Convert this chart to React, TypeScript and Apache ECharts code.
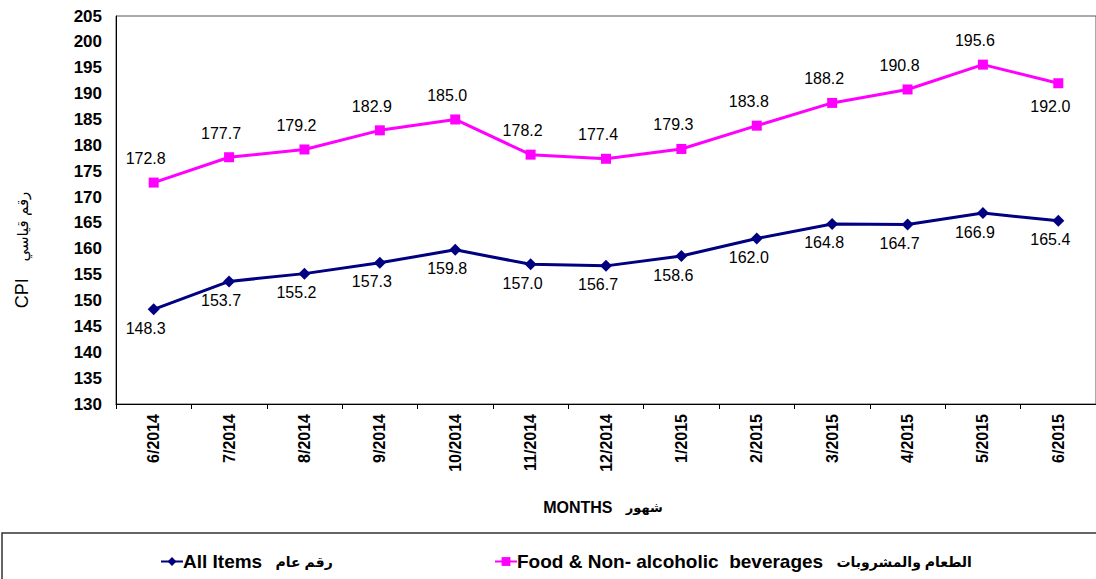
import React, { useEffect, useRef } from "react";
import * as echarts from "echarts";

const months = ["6/2014", "7/2014", "8/2014", "9/2014", "10/2014", "11/2014", "12/2014", "1/2015", "2/2015", "3/2015", "4/2015", "5/2015", "6/2015"];
const allItems = [148.3, 153.7, 155.2, 157.3, 159.8, 157.0, 156.7, 158.6, 162.0, 164.8, 164.7, 166.9, 165.4];
const food = [172.8, 177.7, 179.2, 182.9, 185.0, 178.2, 177.4, 179.3, 183.8, 188.2, 190.8, 195.6, 192.0];
const allName = "All Items";
const allNameAr = "رقم عام";
const foodName = "Food & Non- alcoholic  beverages";
const foodNameAr = "الطعام والمشروبات";
const yNameEn = "CPI";
const yNameAr = "رقم قياسي";
const xNameEn = "MONTHS";
const xNameAr = "شهور";

const FONT = "'Liberation Sans', Arial, 'DejaVu Sans', sans-serif";

export default function App() {
  const ref = useRef<HTMLDivElement>(null);
  useEffect(() => {
    if (!ref.current) return;
    const chart = echarts.init(ref.current, undefined, { renderer: "svg" });
    const foodData = food.map((v, i) =>
      i === food.length - 1
        ? { value: v, label: { position: "bottom", distance: 10 } }
        : v
    );
    const legendText = {
      color: "#000",
      fontFamily: FONT,
      padding: [0, 0, 0, -5],
      rich: {
        b: { fontSize: 19, fontWeight: "bold", color: "#000", fontFamily: FONT },
        a: { fontSize: 14, fontWeight: "bold", color: "#000", fontFamily: FONT },
      },
    };
    chart.setOption({
      animation: false,
      backgroundColor: "#fff",
      textStyle: { fontFamily: FONT },
      grid: { left: 116, top: 16, right: -4, bottom: 175, show: true, borderColor: "#555", borderWidth: 1 },
      xAxis: {
        type: "category",
        data: months,
        boundaryGap: true,
        axisLine: { lineStyle: { color: "#000", width: 1 } },
        axisTick: { show: true, length: 5, lineStyle: { color: "#000" } },
        axisLabel: { rotate: 90, interval: 0, margin: 10, fontSize: 16, fontWeight: "bold", color: "#000", fontFamily: FONT },
        splitLine: { show: false },
      },
      yAxis: {
        type: "value",
        min: 130,
        max: 205,
        interval: 5,
        axisLine: { show: true, lineStyle: { color: "#000", width: 1 } },
        axisTick: { show: false },
        axisLabel: { margin: 14, fontSize: 17, fontWeight: "bold", color: "#000", fontFamily: FONT },
        splitLine: { show: false },
      },
      legend: [
        {
          data: [allName],
          left: 155,
          top: 547,
          itemWidth: 22,
          itemHeight: 11,
          formatter: (n: string) => "{b|" + n + "}    {a|" + allNameAr + "}",
          textStyle: legendText,
        },
        {
          data: [foodName],
          left: 489,
          top: 547,
          itemWidth: 22,
          itemHeight: 11,
          formatter: (n: string) => "{b|" + n + "}    {a|" + foodNameAr + "}",
          textStyle: legendText,
        },
      ],
      graphic: [
        {
          type: "rect",
          shape: { x: 2, y: 533, width: 1200, height: 80 },
          style: { fill: "none", stroke: "#333", lineWidth: 1.5 },
        },
        {
          type: "text",
          x: 22,
          y: 250,
          rotation: Math.PI / 2,
          style: {
            text: "{e|" + yNameEn + "}     {a|" + yNameAr + "}",
            align: "center",
            verticalAlign: "middle",
            rich: {
              e: { fontSize: 18, fontFamily: FONT, fill: "#000", color: "#000" },
              a: { fontSize: 15, fontFamily: FONT, fill: "#000", color: "#000" },
            },
          },
        },
        {
          type: "text",
          x: 603,
          y: 507,
          style: {
            text: "{e|" + xNameEn + "}    {a|" + xNameAr + "}",
            align: "center",
            verticalAlign: "middle",
            rich: {
              e: { fontSize: 16, fontWeight: "bold", fontFamily: FONT, fill: "#000", color: "#000" },
              a: { fontSize: 13, fontWeight: "bold", fontFamily: FONT, fill: "#000", color: "#000" },
            },
          },
        },
      ],
      series: [
        {
          name: allName,
          type: "line",
          data: allItems,
          symbol: "diamond",
          symbolSize: 12,
          itemStyle: { color: "#000080" },
          lineStyle: { color: "#000080", width: 3 },
          label: { show: true, position: "bottom", distance: 5, offset: [-8, 0], fontSize: 16, color: "#000", fontFamily: FONT, formatter: (p: any) => Number(p.value).toFixed(1) },
        },
        {
          name: foodName,
          type: "line",
          data: foodData,
          symbol: "rect",
          symbolSize: 10,
          itemStyle: { color: "#FF00FF" },
          lineStyle: { color: "#FF00FF", width: 3 },
          label: { show: true, position: "top", distance: 11, offset: [-8, 0], fontSize: 16, color: "#000", fontFamily: FONT, formatter: (p: any) => Number(p.value).toFixed(1) },
        },
      ],
    });
    return () => chart.dispose();
  }, []);
  return <div ref={ref} style={{ position: "absolute", left: 0, top: 0, width: 1096, height: 579 }} />;
}
